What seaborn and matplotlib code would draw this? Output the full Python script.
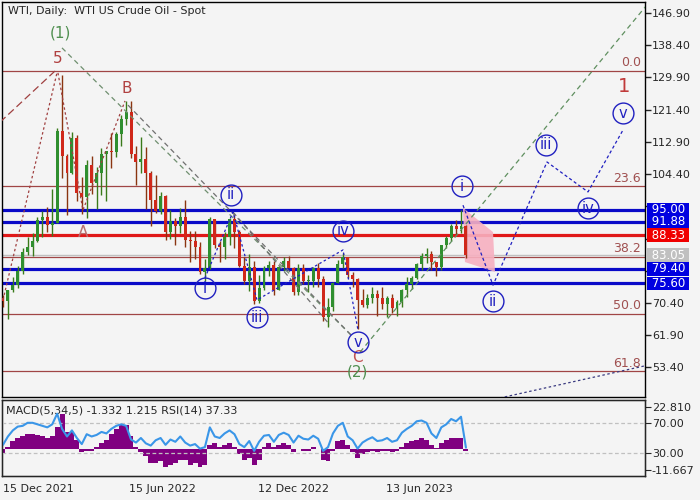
import numpy as np
import pandas as pd
import matplotlib
matplotlib.use("Agg")
import matplotlib.pyplot as plt
import matplotlib.transforms as mtransforms
from matplotlib.patches import Polygon
import seaborn as sns

sns.set_style("white")
plt.rcParams['font.family'] = ['DejaVu Sans']

#----------------- data -------------------------------------------------------
# weekly candles, week k sits on bar index 5*k (bar 0 = 15 Dec 2021)
wk_close = [70.9, 73.8, 75.2, 78.9, 83.8, 85.1, 86.8, 92.3, 93.1, 91.1,
            91.6, 115.7, 109.3, 104.7, 113.9, 99.3, 98.3, 106.9, 102.1, 104.7,
            109.8, 110.5, 110.3, 115.1, 118.9, 120.7, 109.6, 107.6, 108.4, 104.8,
            97.6, 94.7, 98.6, 89.0, 92.1, 90.8, 93.1, 86.9, 86.8, 85.1,
            78.7, 79.5, 92.6, 85.6, 85.1, 87.9, 92.6, 89.0, 80.1, 76.3,
            80.0, 71.0, 74.3, 79.6, 80.3, 73.8, 79.9, 81.6, 79.7, 73.4,
            79.7, 76.3, 76.3, 79.7, 76.7, 66.7, 69.3, 75.7, 80.7, 82.5,
            77.9, 76.8, 71.3, 70.0, 71.7, 72.7, 71.7, 70.2, 71.8, 69.2,
            70.6, 73.9, 75.4, 77.1, 80.6, 82.8, 83.2, 81.3, 79.8, 85.6,
            87.5, 90.8, 90.0, 90.8, 83.05]
wk_high = [72.5, 73.9, 77.3, 80.2, 84.8, 87.9, 88.8, 93.2, 94.7, 95.8,
           100.5, 116.6, 130.5, 109.7, 115.5, 114.6, 103.7, 108.0, 109.2, 106.3,
           111.4, 110.6, 115.2, 115.4, 119.9, 123.7, 123.7, 111.8, 114.1, 111.5,
           105.3, 104.2, 99.8, 98.8, 94.9, 92.7, 95.4, 97.7, 89.3, 89.5,
           86.5, 82.0, 93.0, 92.4, 86.8, 89.0, 92.9, 93.7, 89.7, 82.4,
           83.3, 81.4, 77.8, 80.2, 81.5, 81.5, 80.2, 82.4, 82.7, 79.9,
           80.6, 80.7, 77.8, 80.0, 80.9, 77.4, 71.7, 75.9, 81.8, 83.5,
           82.5, 78.7, 76.9, 74.0, 72.9, 74.7, 73.9, 74.6, 72.3, 72.7,
           71.1, 74.2, 77.3, 77.4, 80.9, 83.5, 84.9, 84.0, 81.3, 85.8,
           88.1, 91.2, 92.4, 95.0, 91.0]
wk_low = [69.3, 66.1, 73.2, 74.3, 78.0, 83.0, 82.9, 86.5, 87.7, 89.1,
          88.1, 91.5, 103.5, 93.5, 104.4, 97.4, 93.9, 92.9, 99.2, 95.3,
          99.0, 97.2, 106.0, 108.9, 111.8, 117.4, 108.7, 101.5, 104.6, 95.1,
          90.6, 94.1, 93.9, 87.0, 87.3, 85.7, 88.8, 85.3, 81.2, 81.9,
          78.1, 76.3, 79.3, 85.0, 81.3, 82.1, 85.6, 85.0, 79.9, 75.3,
          73.6, 70.1, 70.3, 73.7, 77.5, 72.5, 73.7, 78.8, 79.5, 72.5,
          72.6, 75.5, 73.3, 74.6, 74.7, 65.6, 64.1, 68.4, 75.7, 79.5,
          77.1, 74.6, 63.6, 69.4, 69.0, 70.5, 67.0, 68.7, 66.8, 67.7,
          66.9, 69.3, 72.0, 74.0, 76.6, 79.2, 81.0, 79.0, 77.6, 79.2,
          84.9, 86.7, 88.7, 88.8, 82.3]
first_open = 71.7

rsi_wk = [41, 52, 60, 65, 66, 70, 70, 68, 66, 64,
          68, 82, 62, 52, 60, 50, 42, 55, 52, 54,
          58, 56, 62, 66, 68, 66, 48, 44, 50, 43,
          40, 47, 50, 41, 48, 45, 52, 44, 40, 42,
          36, 38, 64, 52, 50, 56, 60, 55, 42, 38,
          46, 33, 45, 53, 54, 45, 54, 57, 54, 44,
          53, 49, 48, 53, 49, 33, 38, 56, 66, 70,
          52, 47, 36, 44, 48, 51, 46, 47, 50, 45,
          47, 57, 62, 66, 72, 73, 70, 56, 50, 64,
          68, 75, 72, 78, 37.33]
macd_wk = [-3, 1, 4, 6, 7, 8, 8, 7.5, 7, 6,
           7, 12, 19, 9, 9, 5, -2, -1, -1, 1,
           3, 5, 8, 11, 13, 13, 7, 1, -2, -4,
           -8, -8, -7, -10, -9, -8, -6, -6, -9, -8,
           -10, -9, 2, 3, 1, 2, 3, 1, -3, -6,
           -5, -9, -6, 1, 3, 1, 2, 3, 2, -2,
           0, -1, -1, 1, 0, -6, -7, -1, 4, 5,
           2, -2, -5, -3, -2, -1, -2, -1, -1, -2,
           -1, 1, 3, 4, 5, 6, 5, 2, 0.5, 3,
           5, 6, 6, 6, -1.332]

date_ticks = [0, 128, 259, 389]
date_labels = ["15 Dec 2021", "15 Jun 2022", "12 Dec 2022", "13 Jun 2023"]

price_ticks = [146.90, 138.40, 129.90, 121.40, 112.90, 104.40,
               95.90, 87.40, 78.90, 70.40, 61.90, 53.40]
hidden_ticks = [95.90, 87.40, 78.90]   # sit under the price tags

fib_levels = [131.6, 101.2, 82.6, 67.5, 52.4]
fib_names = ["0.0", "23.6", "38.2", "50.0", "61.8"]

blue_levels = [95.00, 91.88, 79.40, 75.60]
red_level = 88.33
last_price = 83.05

# elliott wave markings, (bar, price)
wave_hist = [(205, 77.0), (233.5, 94.4), (257.9, 71.2), (345.2, 84.4), (360.4, 63.3)]
wave_future = [(467, 96.2), (497.5, 75.1), (552.3, 107.6), (593.9, 99.7), (629.4, 116.0)]
circ_labels = [("i", 205.1, 74.3), ("ii", 231.5, 98.9), ("iii", 257.9, 66.7),
               ("iv", 345.2, 89.4), ("v", 360.4, 60.1),
               ("i", 466.0, 101.2), ("ii", 497.5, 70.9), ("iii", 551.3, 112.1),
               ("iv", 593.9, 95.4), ("v", 629.4, 120.5)]
pink_zone = [(467.0, 95.5), (497.5, 89.1), (499.5, 78.6), (469.0, 81.2)]

#----------------- figure -----------------------------------------------------
bg = '#f4f4f4'
fig = plt.figure(figsize=(7, 5), dpi=100, facecolor=bg)
ax = fig.add_axes([2/700, 103/500, 643/700, 395/500], facecolor=bg)
axi = fig.add_axes([2/700, 24/500, 643/700, 76/500], facecolor=bg)

df = pd.DataFrame({"bar": np.arange(len(wk_close)) * 5,
                   "close": wk_close, "high": wk_high, "low": wk_low})
df["open"] = [first_open] + wk_close[:-1]
df["up"] = df["close"] >= df["open"]

xmin, xmax = -1, 651.8
for a in (ax, axi):
    a.set_xlim(xmin, xmax)
    for s in a.spines.values():
        s.set_color('black')
        s.set_linewidth(1)
ax.set_ylim(45.6, 149.8)

# horizontal levels
tr = mtransforms.blended_transform_factory(ax.transAxes, ax.transData)
for lv, nm in zip(fib_levels, fib_names):
    ax.axhline(lv, color='#a04545', lw=0.9, zorder=1)
    ax.text(0.9935, lv + 0.4, nm, transform=tr,
            ha='right', va='bottom', fontsize=9, color='#a05050')
ax.axhline(last_price, color='#c0c0c0', lw=1, zorder=1)
for lv in blue_levels:
    ax.axhline(lv, color='#0a0ac8', lw=2.3, zorder=2)
ax.axhline(red_level, color='#e01818', lw=2.3, zorder=2)

# candles
up_c, dn_c = '#2f8f2f', '#d0281a'
ax.vlines(df["bar"], df["low"], df["high"],
          colors=np.where(df["up"], '#3a7a1a', '#8a3510'), lw=1.0, zorder=3)
body = (df["close"] - df["open"]).abs().clip(lower=0.25)
ax.bar(df["bar"], body, bottom=df[["open", "close"]].min(axis=1), width=3.0,
       color=np.where(df["up"], up_c, dn_c), zorder=4, linewidth=0)

# wave lines
ax.add_patch(Polygon(pink_zone, closed=True, fc='#f7b0c0', ec='none', alpha=0.9, zorder=2.5))
ax.plot([-3, 52.8], [118.1, 131.6], color='#a04040', lw=0.9, ls=(0, (6, 3)), zorder=5)
ax.plot([0, 54.8], [71.2, 131.1], color='#a04040', lw=0.9, ls=(0, (2, 2)), zorder=5)
ax.plot([55.8, 81.2, 123.9], [131.1, 94.9, 123.7], color='#a04040', lw=0.9, ls=(0, (2, 2)), zorder=5)
ax.plot([59.9, 354.3], [137.7, 61.7], color='#6f8f6f', lw=0.9, ls=(0, (4, 3)), zorder=5)
ax.plot([126.9, 354.3], [122.6, 61.7], color='#707070', lw=0.9, ls=(0, (4, 3)), zorder=5)
ax.plot([233.5, 332], [94.4, 64.6], color='#707070', lw=0.9, ls=(0, (4, 3)), zorder=5)
ax.plot([362.4, 660], [57.4, 151.0], color='#5f8f5f', lw=0.9, ls=(0, (4, 3)), zorder=5)
ax.plot([499.5, 660], [45.05, 54.3], color='#3a3a80', lw=0.9, ls=(0, (2, 2)), zorder=5)
hx, hy = zip(*wave_hist)
ax.plot(hx, hy, color='#2020c0', lw=0.9, ls=(0, (2, 2)), zorder=5)
fx, fy = zip(*wave_future)
ax.plot(fx, fy, color='#2020c0', lw=0.9, ls=(0, (2.5, 2)), zorder=5)

for t, x, y in circ_labels:
    ax.plot(x, y, 'o', ms=15, mfc='none', mec='#2020c0', mew=1, zorder=6)
    ax.text(x, y, t, ha='center', va='center', fontsize=10.5, color='#2020c0', zorder=6)

ax.text(57.9, 141.6, "(1)", ha='center', va='center', fontsize=11, color='#4f8f4f')
ax.text(359.4, 52.2, "(2)", ha='center', va='center', fontsize=11, color='#4f8f4f')
for t, x, y, col in [("5", 55.8, 135.0, '#b04040'), ("B", 125.9, 127.1, '#b04040'),
                     ("A", 81.2, 89.1, '#b87070'), ("C", 359.4, 56.1, '#c05050')]:
    ax.text(x, y, t, ha='center', va='center', fontsize=11, color=col)
ax.text(630.5, 127.6, "1", ha='center', va='center', fontsize=14, color='#c03a3a')

ax.text(0.009, 0.99, "WTI, Daily:  WTI US Crude Oil - Spot", transform=ax.transAxes,
        ha='left', va='top', fontsize=8)

# right price axis
ax.set_xticks([])
ax.yaxis.tick_right()
ax.set_yticks(price_ticks)
ax.set_yticklabels(["" if v in hidden_ticks else f"{v:.2f}" for v in price_ticks])
ax.tick_params(axis='y', length=4, width=1, pad=1, labelsize=8, direction='out')

tags = [(95.00, '#0000e0'), (91.88, '#0000e0'), (88.33, '#f00000'),
        (last_price, '#c0c0c0'), (79.40, '#0000e0'), (75.60, '#0000e0')]
for lv, col in tags:
    ax.text(1.004, lv, f" {lv:.2f} ", transform=tr, ha='left', va='center', fontsize=8.5,
            color='white', clip_on=False, zorder=10,
            bbox=dict(boxstyle='square,pad=0.02', fc=col, ec='none'))

#----------------- indicator panel --------------------------------------------
axi.set_ylim(-14.95, 26.64)
axi.bar(df["bar"], macd_wk, width=5, color='#800080', linewidth=0, zorder=2)
axi.set_xticks(date_ticks)
axi.set_xticklabels(date_labels, ha='left', fontsize=8)
axi.tick_params(axis='x', length=4, pad=2)

axr = axi.twinx()
axr.set_ylim(0, 100)
axr.axhline(70, color='#c0c0c0', lw=0.9, ls=(0, (3, 2)))
axr.axhline(30, color='#c0c0c0', lw=0.9, ls=(0, (3, 2)))
sns.lineplot(x=df["bar"], y=rsi_wk, ax=axr, color='#3a96e8', lw=1.5)
axr.set_ylabel("")
axr.set_yticks([70, 30])
axr.set_yticklabels(["70.00", "30.00"])
axr.tick_params(axis='y', length=4, pad=1, labelsize=8)
axr.set_xlim(xmin, xmax)

# twinx moves the macd ticks to the left, put them back on the right
axi.yaxis.tick_right()
axi.set_yticks([22.81, -11.667])
axi.set_yticklabels(["22.810", "-11.667"])
axi.tick_params(axis='y', length=4, pad=1, labelsize=8)

axi.text(0.006, 0.86, "MACD(5,34,5) -1.332 1.215 RSI(14) 37.33", transform=axi.transAxes,
         ha='left', va='center', fontsize=8, zorder=10)

fig.savefig("out.png", dpi=100, facecolor=bg)
